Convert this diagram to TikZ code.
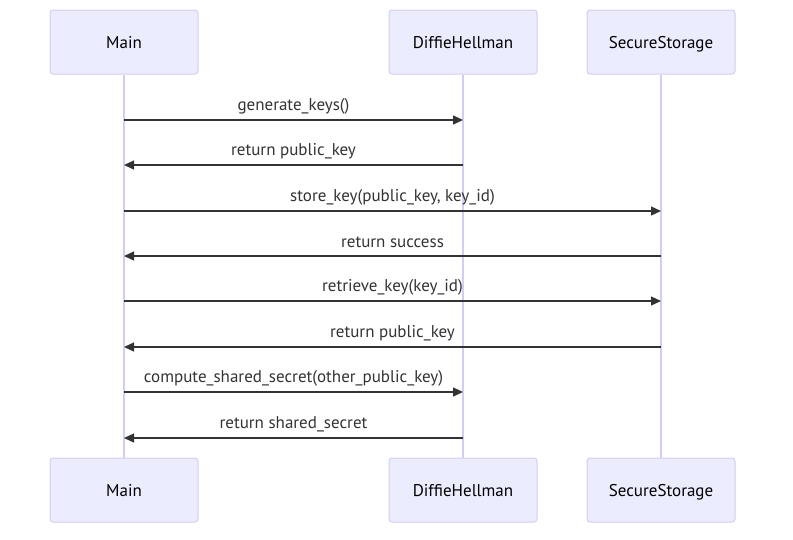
\documentclass[tikz,border=0pt]{standalone}
\usepackage{fontspec}
\setmainfont{PT Sans}
\usetikzlibrary{arrows.meta}
\definecolor{actorfill}{HTML}{ECECFF}
\definecolor{actorline}{HTML}{D6CCF2}
\definecolor{msgtext}{HTML}{333333}
\tikzset{
  actor/.style={draw=actorline, fill=actorfill, rounded corners=3pt, line width=1pt,
    minimum width=148pt, minimum height=64pt, text height=14pt, text depth=2pt,
    font=\fontsize{17}{20}\selectfont},
  lifeline/.style={draw=actorline, line width=1.2pt},
  msg/.style={draw=msgtext, line width=1.3pt, -{Triangle[length=10pt,width=9pt]}},
  msglabel/.style={text=msgtext, font=\fontsize{17}{20}\selectfont, yshift=14pt}
}
\begin{document}
\begin{tikzpicture}[x=1pt,y=-1pt]

\useasboundingbox (0,0) rectangle (793,539);

\node[actor] (mainT) at (124,42) {Main};
\node[actor] (dhT) at (463,42) {DiffieHellman};
\node[actor] (ssT) at (661,42) {SecureStorage};
\node[actor] (mainB) at (124,490) {Main};
\node[actor] (dhB) at (463,490) {DiffieHellman};
\node[actor] (ssB) at (661,490) {SecureStorage};

\draw[lifeline] (mainT) -- (mainB);
\draw[lifeline] (dhT) -- (dhB);
\draw[lifeline] (ssT) -- (ssB);

\foreach \from/\to/\y/\txt in {
  mainT/dhT/120/generate\_keys(),
  dhT/mainT/165/return public\_key,
  mainT/ssT/211/{store\_key(public\_key, key\_id)},
  ssT/mainT/256/return success,
  mainT/ssT/301/retrieve\_key(key\_id),
  ssT/mainT/347/return public\_key,
  mainT/dhT/392/compute\_shared\_secret(other\_public\_key),
  dhT/mainT/438/return shared\_secret}
  \draw[msg] (\from |- 0,\y) -- (\to |- 0,\y) node[midway, msglabel] {\txt};

\end{tikzpicture}
\end{document}
